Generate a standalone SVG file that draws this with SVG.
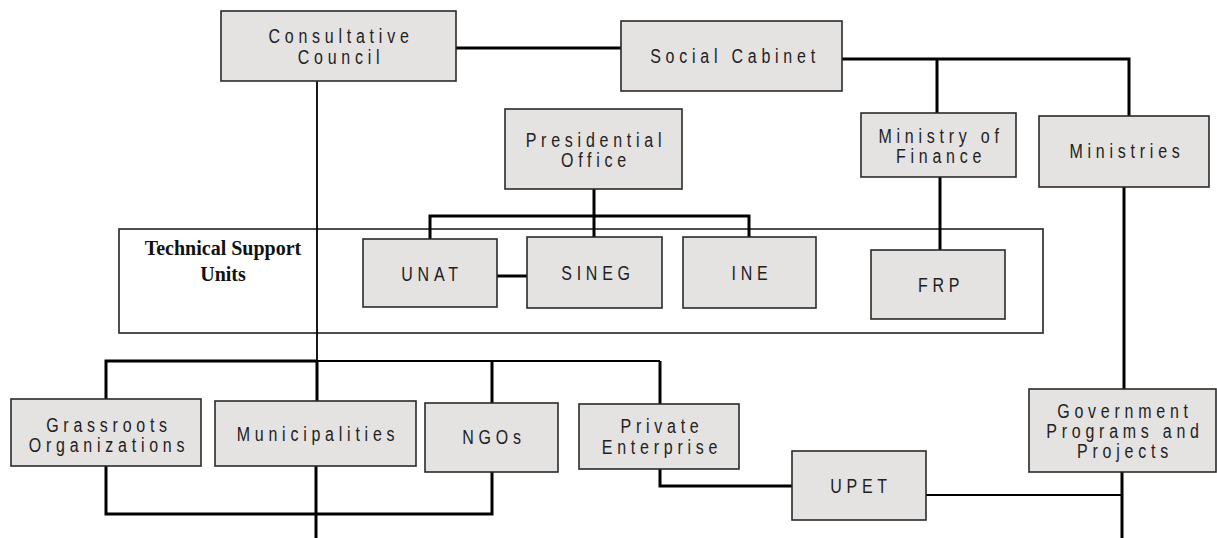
<svg xmlns="http://www.w3.org/2000/svg" width="1217" height="538" viewBox="0 0 1217 538">
<style>
.box{fill:#e4e3e2;stroke:#2a2a2a;stroke-width:1.6}
.lbl{font-family:"Liberation Sans",Arial,sans-serif;font-size:19.5px;letter-spacing:5.8px;fill:#222;text-anchor:middle}
.thick{stroke:#000;stroke-width:3;fill:none}
.thin{stroke:#000;stroke-width:1.8;fill:none}
.frame{fill:none;stroke:#222;stroke-width:1.6}
.tsu{font-family:"Liberation Serif","Times New Roman",serif;font-size:20px;font-weight:bold;fill:#111;text-anchor:middle}
</style>
<rect width="1217" height="538" fill="#fff"/>
<g id="tsu-frame">
<rect class="frame" x="119" y="229" width="924" height="104"/>
<text class="tsu" x="223" y="255">Technical Support</text>
<text class="tsu" x="223" y="281">Units</text>
</g>
<g id="connectors">
<polyline class="thick" points="456,48 621,48"/>
<polyline class="thick" points="842,59 1129,59 1129,116"/>
<polyline class="thick" points="937,59 937,113"/>
<polyline class="thick" points="940,177 940,250"/>
<polyline class="thick" points="1124,187 1124,389"/>
<polyline class="thick" points="594,189 594,237"/>
<polyline class="thick" points="430,239 430,216 749,216 749,237"/>
<polyline class="thick" points="497,276 527,276"/>
<polyline class="thin" points="317,81 317,361"/>
<polyline class="thick" points="317,361 317,401"/>
<polyline class="thick" points="106,399 106,361 317,361"/>
<polyline class="thin" points="317,361 660,361"/>
<polyline class="thick" points="492,361 492,403"/>
<polyline class="thick" points="660,361 660,404"/>
<polyline class="thick" points="106,466 106,514 492,514 492,472"/>
<polyline class="thick" points="316,466 316,538"/>
<polyline class="thick" points="660,469 660,486 792,486"/>
<polyline class="thin" points="926,495 1122,495"/>
<polyline class="thick" points="1122,472 1122,538"/>
</g>
<g id="consultative-council">
<rect class="box" x="221" y="11" width="235" height="70"/>
<text class="lbl" transform="translate(341,43) scale(0.82,1)">Consultative</text>
<text class="lbl" transform="translate(341,64) scale(0.82,1)">Council</text>
</g>
<g id="social-cabinet">
<rect class="box" x="621" y="21" width="221" height="70"/>
<text class="lbl" transform="translate(735,63) scale(0.82,1)">Social Cabinet</text>
</g>
<g id="presidential-office">
<rect class="box" x="505" y="109" width="177" height="80"/>
<text class="lbl" transform="translate(596,147) scale(0.82,1)">Presidential</text>
<text class="lbl" transform="translate(596,167) scale(0.82,1)">Office</text>
</g>
<g id="ministry-of-finance">
<rect class="box" x="861" y="113" width="155" height="64"/>
<text class="lbl" transform="translate(941,143) scale(0.82,1)">Ministry of</text>
<text class="lbl" transform="translate(941,163) scale(0.82,1)">Finance</text>
</g>
<g id="ministries">
<rect class="box" x="1039" y="116" width="170" height="71"/>
<text class="lbl" transform="translate(1127,158) scale(0.82,1)">Ministries</text>
</g>
<g id="unat">
<rect class="box" x="363" y="239" width="134" height="68"/>
<text class="lbl" transform="translate(432,281) scale(0.82,1)">UNAT</text>
</g>
<g id="sineg">
<rect class="box" x="527" y="237" width="135" height="71"/>
<text class="lbl" transform="translate(598,280) scale(0.82,1)">SINEG</text>
</g>
<g id="ine">
<rect class="box" x="683" y="237" width="133" height="71"/>
<text class="lbl" transform="translate(752,280) scale(0.82,1)">INE</text>
</g>
<g id="frp">
<rect class="box" x="871" y="250" width="134" height="69"/>
<text class="lbl" transform="translate(941,292) scale(0.82,1)">FRP</text>
</g>
<g id="grassroots-organizations">
<rect class="box" x="11" y="399" width="190" height="67"/>
<text class="lbl" transform="translate(109,432) scale(0.82,1)">Grassroots</text>
<text class="lbl" transform="translate(109,452) scale(0.82,1)">Organizations</text>
</g>
<g id="municipalities">
<rect class="box" x="215" y="401" width="201" height="65"/>
<text class="lbl" transform="translate(318,441) scale(0.82,1)">Municipalities</text>
</g>
<g id="ngos">
<rect class="box" x="425" y="403" width="133" height="69"/>
<text class="lbl" transform="translate(494,444) scale(0.82,1)">NGOs</text>
</g>
<g id="private-enterprise">
<rect class="box" x="579" y="404" width="160" height="65"/>
<text class="lbl" transform="translate(662,433) scale(0.82,1)">Private</text>
<text class="lbl" transform="translate(662,454) scale(0.82,1)">Enterprise</text>
</g>
<g id="upet">
<rect class="box" x="792" y="451" width="134" height="69"/>
<text class="lbl" transform="translate(861,493) scale(0.82,1)">UPET</text>
</g>
<g id="government-programs">
<rect class="box" x="1029" y="389" width="187" height="83"/>
<text class="lbl" transform="translate(1125,418) scale(0.82,1)">Government</text>
<text class="lbl" transform="translate(1125,438) scale(0.82,1)">Programs and</text>
<text class="lbl" transform="translate(1125,458) scale(0.82,1)">Projects</text>
</g>
</svg>
